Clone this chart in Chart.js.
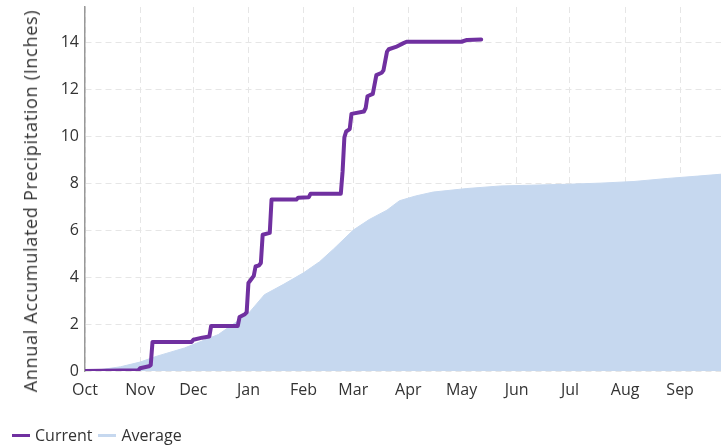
<!DOCTYPE html>
<html>
<head>
<meta charset="utf-8">
<script src="https://cdn.jsdelivr.net/npm/chart.js@4"></script>
<style>
  body { margin: 0; background: #fff; }
  #wrap { position: relative; width: 721px; height: 446px; font-family: "Open Sans", sans-serif; color: #333; }
  #ytitle { position: absolute; left: 30px; top: 201px; transform: translate(-50%, -50%) rotate(-90deg); white-space: nowrap; font-size: 18px; letter-spacing: 0.7px; }
  #legend { position: absolute; left: 12px; top: 424px; font-size: 16px; display: flex; align-items: center; }
  .sw { display: inline-block; width: 18px; height: 3px; margin-right: 5px; }
  .item { display: flex; align-items: center; margin-right: 6px; }
</style>
</head>
<body>
<div id="wrap">
  <canvas id="c" width="721" height="446"></canvas>
  <div id="ytitle">Annual Accumulated Precipitation (Inches)</div>
  <div id="legend"></div>
</div>
<script>
// month ticks (day index from Oct 1)
const monthDays = [0, 31, 61, 92, 123, 151, 182, 212, 243, 273, 304, 335];
const monthLabels = ['Oct', 'Nov', 'Dec', 'Jan', 'Feb', 'Mar', 'Apr', 'May', 'Jun', 'Jul', 'Aug', 'Sep'];
const yTicks = [0, 2, 4, 6, 8, 10, 12, 14];

// Current water year, accumulated inches
const currentDays = [0, 30, 31, 36, 37, 38, 60, 61, 66, 70, 71, 86, 87, 90, 91, 92, 94, 95, 96, 98, 99, 100, 104, 105, 119, 120, 126, 127, 144, 145, 146, 147, 149, 150, 157, 158, 159, 162, 164, 167, 168, 170, 171, 175, 179, 181, 212, 215, 223];
const currentValues = [0, 0.03, 0.12, 0.2, 0.25, 1.24, 1.24, 1.33, 1.42, 1.47, 1.92, 1.92, 2.3, 2.42, 2.5, 3.75, 3.95, 4.05, 4.45, 4.5, 4.6, 5.8, 5.88, 7.3, 7.3, 7.38, 7.4, 7.55, 7.55, 8.5, 9.95, 10.2, 10.3, 10.95, 11.05, 11.2, 11.7, 11.8, 12.6, 12.7, 12.8, 13.6, 13.7, 13.8, 13.95, 14.02, 14.02, 14.1, 14.12];

// Average accumulated inches
const averageDays = [0, 10, 20, 31, 40, 56, 75, 92, 101, 112, 123, 132, 140, 151, 160, 170, 177, 186, 196, 215, 234, 271, 290, 309, 328, 345, 358];
const averageValues = [0, 0.07, 0.18, 0.38, 0.62, 0.98, 1.55, 2.45, 3.25, 3.7, 4.18, 4.65, 5.2, 6.0, 6.45, 6.85, 7.25, 7.45, 7.62, 7.77, 7.88, 7.95, 8.0, 8.07, 8.2, 8.3, 8.38];

const CURRENT = '#7030a0';
const AVERAGE = '#c6d8ef';
const FONT = { family: '"Open Sans", sans-serif', size: 16 };

new Chart(document.getElementById('c'), {
  type: 'line',
  data: {
    datasets: [
      {
        label: 'Current',
        data: currentDays.map((d, i) => ({ x: d, y: currentValues[i] })),
        borderColor: CURRENT,
        borderWidth: 4,
        pointRadius: 0,
        tension: 0,
        fill: false,
        borderJoinStyle: 'round',
        borderCapStyle: 'round',
      },
      {
        label: 'Average',
        data: averageDays.map((d, i) => ({ x: d, y: averageValues[i] })),
        borderColor: AVERAGE,
        backgroundColor: AVERAGE,
        borderWidth: 1,
        pointRadius: 0,
        tension: 0,
        fill: 'origin',
      },
    ],
  },
  options: {
    responsive: false,
    animation: false,
    layout: { padding: 0 },
    plugins: { legend: { display: false }, tooltip: { enabled: false } },
    scales: {
      x: {
        type: 'linear',
        min: 0,
        max: 358,
        afterBuildTicks: (s) => { s.ticks = monthDays.map(v => ({ value: v })); },
        afterFit: (s) => { s.height = 75; },
        ticks: {
          color: '#333',
          font: FONT,
          padding: 10,
          maxRotation: 0,
          autoSkip: false,
          callback: (v) => monthLabels[monthDays.indexOf(v)] ?? '',
        },
        grid: { color: '#e6e6e6', drawTicks: false },
        border: { display: false, dash: [6, 4] },
      },
      y: {
        min: 0,
        max: 15.5,
        afterBuildTicks: (s) => { s.ticks = yTicks.map(v => ({ value: v })); },
        afterFit: (s) => { s.width = 85; s.paddingTop = 7; },
        ticks: { color: '#333', font: FONT, padding: 6 },
        grid: { color: '#e6e6e6', drawTicks: false },
        border: { display: true, color: '#999', width: 1.5, dash: [6, 4] },
      },
    },
  },
});

// legend
const legend = document.getElementById('legend');
[['Current', CURRENT], ['Average', AVERAGE]].forEach(([name, color]) => {
  const item = document.createElement('span');
  item.className = 'item';
  item.innerHTML = `<span class="sw" style="background:${color}"></span>${name}`;
  legend.appendChild(item);
});
</script>
</body>
</html>
